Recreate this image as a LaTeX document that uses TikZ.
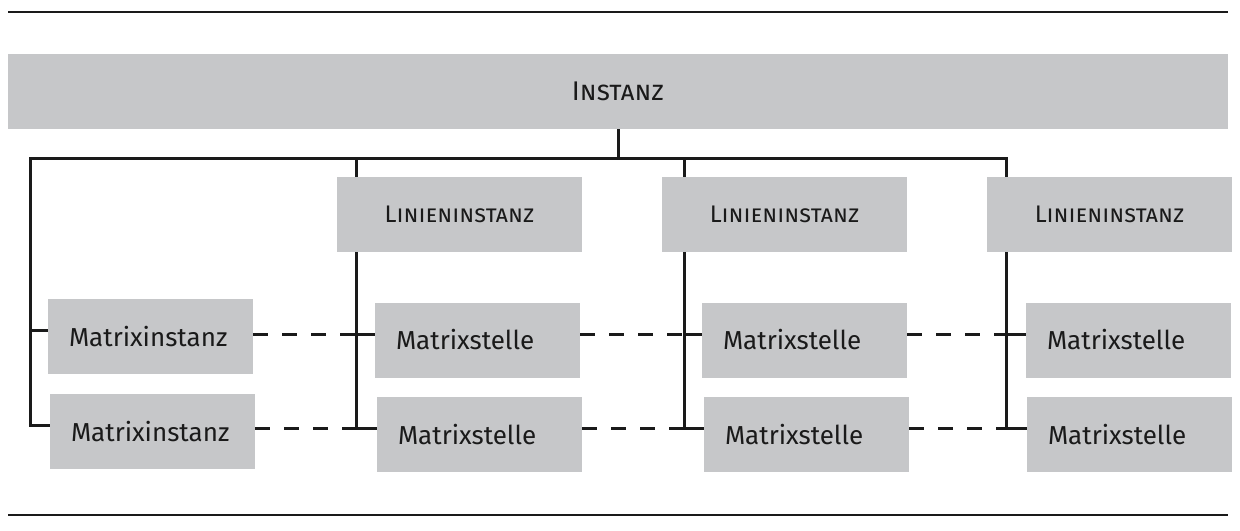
\documentclass[tikz,border=0pt]{standalone}
\usepackage{fontspec}
\setmainfont{Fira Sans}
\usetikzlibrary{backgrounds}
\definecolor{boxgray}{HTML}{C6C7C9}
\definecolor{ink}{HTML}{1A1A1A}
\begin{document}
\begin{tikzpicture}[x=0.5pt,y=-0.5pt,
        box/.style={fill=boxgray, inner xsep=10.5pt, inner ysep=0pt, text width=81.5pt, align=left,
            minimum height=37.5pt, text=ink, font=\fontsize{13}{15}\selectfont},
        linebox/.style={box, text width=101.5pt, align=center, font=\fontsize{12}{15}\selectfont\scshape},
        topbox/.style={linebox, text width=589pt, font=\fontsize{13.5}{16}\selectfont\scshape},
        link/.style={draw=ink, line width=1.5pt, line join=miter},
        dashlink/.style={link, dash pattern=on 7.5pt off 7pt},
        rule/.style={draw=ink, line width=1.4pt},
    ]
    \useasboundingbox (0,0) rectangle (1240,530);
    \draw[rule] (8,12) -- (1228,12);
    \draw[rule] (8,515) -- (1228,515);
    % boxes
    \node[topbox] (inst) at (618,91) {Instanz};
    \node[box] (mi1) at (150.5,336.5) {Matrixinstanz};
    \node[box] (mi2) at (152.5,431.5) {Matrixinstanz};
    \node[linebox] (li2) at (459.5,214.5) {Linieninstanz};
    \node[box] (ms2a) at (477.5,340) {Matrixstelle};
    \node[box] (ms2b) at (479.5,434.5) {Matrixstelle};
    \node[linebox] (li3) at (784.5,214.5) {Linieninstanz};
    \node[box] (ms3a) at (804.5,340) {Matrixstelle};
    \node[box] (ms3b) at (806.5,434.5) {Matrixstelle};
    \node[linebox] (li4) at (1109.5,214.5) {Linieninstanz};
    \node[box] (ms4a) at (1128.5,340) {Matrixstelle};
    \node[box] (ms4b) at (1129.5,434.5) {Matrixstelle};
    \coordinate (bus1) at (30,158);
    \coordinate (bus2) at (356,158);
    \coordinate (bus3) at (684,158);
    \coordinate (bus4) at (1006,158);
    % connectors
    \begin{scope}[on background layer]
        \draw[link] (inst.south) -- (inst.south |- bus1);
        \draw[link] ([yshift=3pt]mi2.west) -| (bus1) -- (bus4) |- ([yshift=3pt]ms4b.west);
        \draw[link] (bus2) |- ([yshift=3pt]ms2b.west);
        \draw[link] (bus3) |- ([yshift=3pt]ms3b.west);
        \draw[link] ([yshift=3pt]bus1 |- mi1.west) -- ([yshift=3pt]mi1.west);
        \draw[link] ([yshift=3pt]bus2 |- ms2a.west) -- ([yshift=3pt]ms2a.west);
        \draw[link] ([yshift=3pt]bus3 |- ms3a.west) -- ([yshift=3pt]ms3a.west);
        \draw[link] ([yshift=3pt]bus4 |- ms4a.west) -- ([yshift=3pt]ms4a.west);
    \end{scope}
    \draw[dashlink] ([yshift=3pt]mi1.east |- ms2a.west) -- ([yshift=3pt]bus2 |- ms2a.west);
    \draw[dashlink] ([yshift=3pt]mi2.east |- ms2b.west) -- ([yshift=3pt]bus2 |- ms2b.west);
    \draw[dashlink] ([yshift=3pt]ms2a.east) -- ([yshift=3pt]bus3 |- ms3a.west);
    \draw[dashlink] ([yshift=3pt]ms2b.east) -- ([yshift=3pt]bus3 |- ms3b.west);
    \draw[dashlink] ([yshift=3pt]ms3a.east) -- ([yshift=3pt]bus4 |- ms4a.west);
    \draw[dashlink] ([yshift=3pt]ms3b.east) -- ([yshift=3pt]bus4 |- ms4b.west);
\end{tikzpicture}
\end{document}
